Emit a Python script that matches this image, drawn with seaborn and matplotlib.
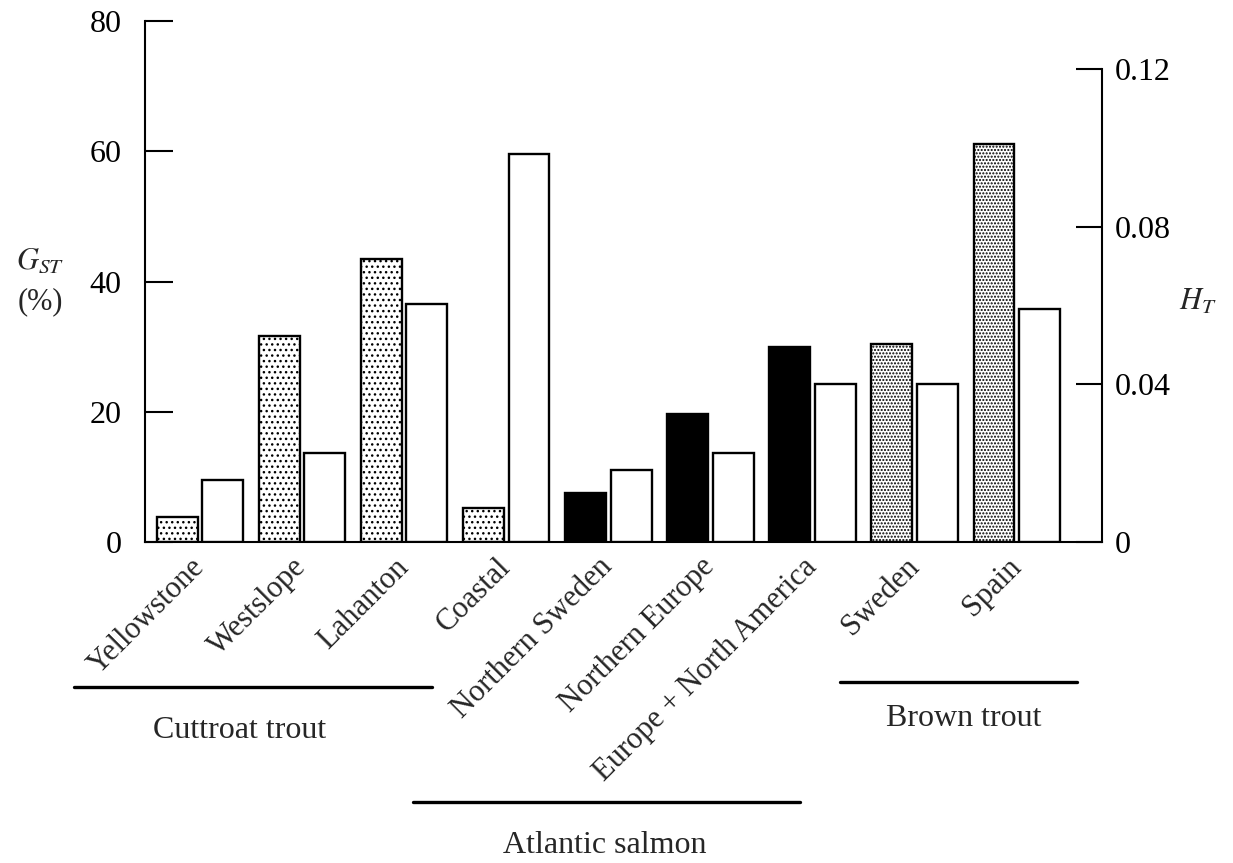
import numpy as np
import pandas as pd
import matplotlib
matplotlib.use("Agg")
import matplotlib.pyplot as plt
from matplotlib.lines import Line2D
import seaborn as sns

# ---------------- data ----------------
populations = ["Yellowstone", "Westslope", "Lahanton", "Coastal",
               "Northern Sweden", "Northern Europe", "Europe + North America",
               "Sweden", "Spain"]
species = ["Cuttroat trout"] * 4 + ["Atlantic salmon"] * 3 + ["Brown trout"] * 2
gst_pct = [3.8, 31.6, 43.5, 5.2, 7.5, 19.7, 30.0, 30.4, 61.1]
ht = [0.0157, 0.0225, 0.0604, 0.0984, 0.0183, 0.0226, 0.0401, 0.0401, 0.0591]

left_ticks = [0, 20, 40, 60, 80]
left_tick_labels = ["0", "20", "40", "60", "80"]
right_ticks = [0, 0.04, 0.08, 0.12]
right_tick_labels = ["0", "0.04", "0.08", "0.12"]

group_names = ["Cuttroat trout", "Atlantic salmon", "Brown trout"]

# ---------------- style ----------------
sns.set_theme(style="white")
plt.rcParams["font.family"] = ["Liberation Serif", "DejaVu Serif"]
plt.rcParams["mathtext.fontset"] = "stix"
plt.rcParams["hatch.linewidth"] = 1.0
plt.rcParams["hatch.color"] = "black"

FS = 23
fill_style = {
    "Cuttroat trout": ("white", "..."),
    "Atlantic salmon": ("black", ""),
    "Brown trout": ("white", "....."),
}

W, H = 1233, 863
fig = plt.figure(figsize=(W / 100, H / 100), dpi=100)
fig.patch.set_facecolor("white")
ax = fig.add_axes([145 / W, 1 - 542 / H, (1102 - 145) / W, (542 - 21) / H])
ax2 = ax.twinx()

df_gst = pd.DataFrame({"population": populations, "value": gst_pct,
                       "series": "GST", "species": species})
df_ht = pd.DataFrame({"population": populations, "value": ht,
                      "series": "HT", "species": species})

common = dict(x="population", y="value", hue="series", hue_order=["GST", "HT"],
              order=populations, dodge=True, width=0.89, gap=0.1,
              legend=False, edgecolor="black", linewidth=1.7, errorbar=None)

sns.barplot(data=df_gst, ax=ax, **common)
sns.barplot(data=df_ht, ax=ax2, **common)

for p, sp in zip(ax.patches, species):
    fc, hatch = fill_style[sp]
    p.set_facecolor(fc)
    p.set_hatch(hatch)
    p.set_edgecolor("black")
for p in ax2.patches:
    p.set_facecolor("white")
    p.set_edgecolor("black")

# axes limits
ax.set_xlim(-0.538, 8.835)
ax.set_ylim(0, 80)
ax2.set_ylim(0, 0.12 * 521 / 473)

# spines
for s in ["top", "right"]:
    ax.spines[s].set_visible(False)
for s in ["top", "left", "bottom"]:
    ax2.spines[s].set_visible(False)
ax.spines["left"].set_bounds(0, 80)
ax2.spines["right"].set_bounds(0, 0.12)
for s in [ax.spines["left"], ax.spines["bottom"], ax2.spines["right"]]:
    s.set_color("black")
    s.set_linewidth(1.5)

# ticks
ax.set_yticks(left_ticks)
ax.set_yticklabels(left_tick_labels, fontsize=FS)
ax.tick_params(axis="y", direction="in", length=20, width=1.5, pad=17,
               colors="black", left=True)
ax2.set_yticks(right_ticks)
ax2.set_yticklabels(right_tick_labels, fontsize=FS)
ax2.tick_params(axis="y", direction="in", length=19, width=1.5, pad=9,
                colors="black", right=True)

ax.set_xticks(range(len(populations)))
ax.set_xticklabels(populations, fontsize=22, rotation=45, ha="right",
                   va="center", rotation_mode="anchor")
ax.tick_params(axis="x", length=0, pad=15)
ax.set_xlabel("")
ax.set_ylabel("")
ax2.set_ylabel("")

# axis titles
fig.text(40 / W, 1 - 261 / H, r"$G_{ST}$", fontsize=22, ha="center", va="center")
fig.text(40 / W, 1 - 302 / H, "(%)", fontsize=22, ha="center", va="center")
fig.text(1198 / W, 1 - 302 / H, r"$H_{T}$", fontsize=22, ha="center", va="center")

# species group annotations
group_lines = [(74, 432, 687), (413, 800, 802), (840, 1077, 682)]
group_text = [(240, 731), (605, 845), (964, 718)]
for (x0, x1, y), (tx, ty), name in zip(group_lines, group_text, group_names):
    fig.add_artist(Line2D([x0 / W, x1 / W], [1 - y / H, 1 - y / H],
                          transform=fig.transFigure, color="black", lw=2.4))
    fig.text(tx / W, 1 - ty / H, name, fontsize=FS, ha="center", va="center")

fig.savefig("out.png", dpi=100, facecolor="white")
